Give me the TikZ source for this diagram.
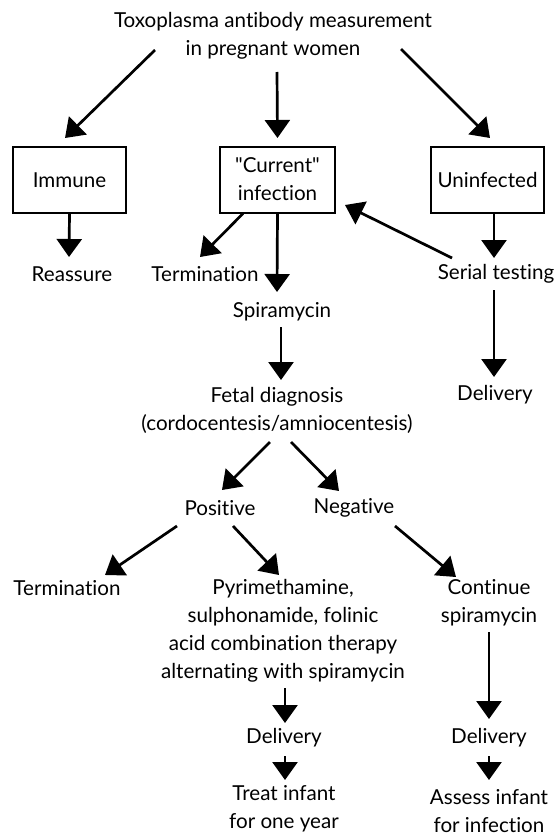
\documentclass[tikz,border=0pt]{standalone}
\usepackage{fontspec}
\setmainfont{Lato}[Ligatures={NoCommon,TeXOff}]
\usepackage{tikz}
\usetikzlibrary{arrows.meta,positioning}

\begin{document}
\begin{tikzpicture}[x=1pt, y=-1pt,
    txt/.style = {align=center, inner sep=0pt, font=\fontsize{20.6}{28}\selectfont},
    boxn/.style = {txt, draw=black, line width=2pt, minimum width=113pt, minimum height=66pt},
    arr/.style = {line width=2.7pt, -{Triangle[width=25pt,length=18pt]}}]
      \useasboundingbox (0,0) rectangle (554,840);

      % top of the chart
      \node [txt] (title) at (273,36) {Toxoplasma antibody measurement\\in pregnant women};
      \node [boxn] (immune) at (69.5,180) {Immune};
      \node [boxn, minimum width=115pt] (current) at (277.5,179.5) {"Current"\\infection};
      \node [boxn] (uninf) at (487.5,180) {Uninfected};

      \node [txt] (reassure) at (72,274) {Reassure};
      \node [txt] (termone) at (205,274) {Termination};
      \node [txt] (serial) at (496,274) {Serial testing};
      \node [txt] (spira) at (282,312) {Spiramycin};
      \node [txt] (fetal) at (277,410) {Fetal diagnosis\\(cordocentesis/amniocentesis)};
      \node [txt] (delivone) at (495,395) {Delivery};

      % fetal result
      \node [txt] (pos) at (220,508) {Positive};
      \node [txt] (neg) at (354,508) {Negative};
      \node [txt] (termtwo) at (67,588) {Termination};
      \node [txt] (pyri) at (283,631) {Pyrimethamine,\\sulphonamide, folinic\\acid combination therapy\\alternating with spiramycin};
      \node [txt] (cont) at (489,603) {Continue\\spiramycin};
      \node [txt] (delivtwo) at (284,738) {Delivery};
      \node [txt] (delivthree) at (489,738) {Delivery};
      \node [txt] (treat) at (284,809) {Treat infant\\for one year};
      \node [txt] (assess) at (489,811) {Assess infant\\for infection};

      \draw[arr] ([shift={(-118,14)}]title.center) -- ([shift={(-4.5,-42)}]immune.center);
      \draw[arr] ([shift={(4,36)}]title.center) -- ([shift={(0,-41.5)}]current.center);
      \draw[arr] ([shift={(128,13)}]title.center) -- ([shift={(2.5,-42)}]uninf.center);

      \draw[arr] (immune.south) -- ([shift={(-3,-17)}]reassure.center);
      \draw[arr] ([xshift=-34.5pt]current.south) -- ([shift={(-5,-17)}]termone.center);
      \draw[arr] (current.south) -- ([shift={(-5,-20)}]spira.center);
      \draw[arr] ([xshift=6.5pt]uninf.south) -- ([shift={(-2,-16)}]serial.center);
      \draw[arr] ([shift={(-44,-16)}]serial.center) -- ([shift={(67.5,25.5)}]current.center);

      \draw[arr] ([shift={(-1,15)}]spira.center) -- ([shift={(4,-30)}]fetal.center);
      \draw[arr] ([shift={(-2,16)}]serial.center) -- ([shift={(-1,-18)}]delivone.center);

      \draw[arr] ([shift={(-7,32)}]fetal.center) -- ([shift={(2,-18)}]pos.center);
      \draw[arr] ([shift={(14,32)}]fetal.center) -- ([shift={(-15,-17)}]neg.center);
      \draw[arr] ([shift={(-43,18)}]pos.center) -- ([shift={(38,-13)}]termtwo.center);
      \draw[arr] ([shift={(13,18)}]pos.center) -- ([shift={(-4,-56)}]pyri.center);
      \draw[arr] ([shift={(41,18)}]neg.center) -- ([shift={(-33,-26)}]cont.center);

      \draw[arr] ([shift={(2,57)}]pyri.center) -- ([shift={(1,-15)}]delivtwo.center);
      \draw[arr] ([shift={(1,18)}]delivtwo.center) -- ([shift={(1,-29)}]treat.center);
      \draw[arr] ([shift={(0,29)}]cont.center) -- ([shift={(0,-19)}]delivthree.center);
      \draw[arr] ([shift={(0,18)}]delivthree.center) -- ([shift={(0,-31)}]assess.center);
\end{tikzpicture}
\end{document}
